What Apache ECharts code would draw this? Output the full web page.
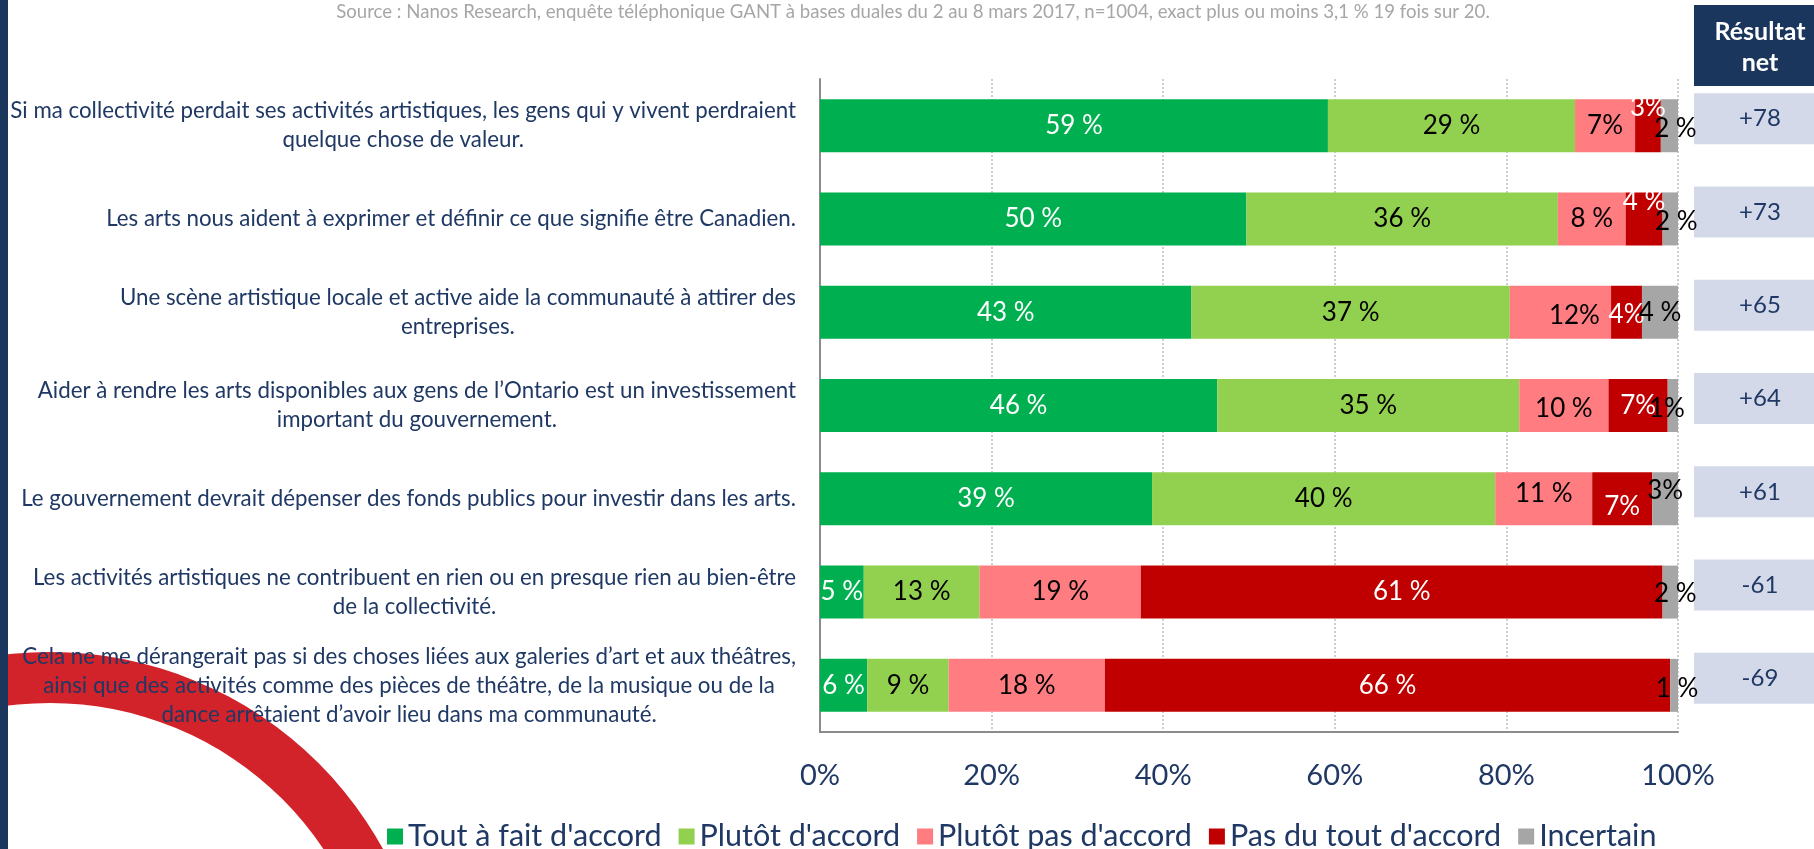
<!DOCTYPE html>
<html>
<head>
<meta charset="utf-8">
<script src="https://cdn.jsdelivr.net/npm/echarts/dist/echarts.min.js"></script>
<style>
  html, body { margin: 0; padding: 0; background: #fff; }
  #chart { width: 1814px; height: 849px; }
</style>
</head>
<body>
<div id="chart"></div>
<script>
// statements, top to bottom
const categories = [
  'Si ma collectivité perdait ses activités artistiques, les gens qui y vivent perdraient\nquelque chose de valeur.',
  'Les arts nous aident à exprimer et définir ce que signifie être Canadien.',
  'Une scène artistique locale et active aide la communauté à attirer des\nentreprises.',
  'Aider à rendre les arts disponibles aux gens de l’Ontario est un investissement\nimportant du gouvernement.',
  'Le gouvernement devrait dépenser des fonds publics pour investir dans les arts.',
  'Les activités artistiques ne contribuent en rien ou en presque rien au bien-être\nde la collectivité.',
  'Cela ne me dérangerait pas si des choses liées aux galeries d’art et aux théâtres,\nainsi que des activités comme des pièces de théâtre, de la musique ou de la\ndance arrêtaient d’avoir lieu dans ma communauté.'
];

const seriesNames = ["Tout à fait d'accord", "Plutôt d'accord", "Plutôt pas d'accord", "Pas du tout d'accord", 'Incertain'];

// shares (%)
const toutAFait = [59.2, 49.7, 43.3, 46.3, 38.7, 5.1, 5.5];
const plutotAccord = [28.8, 36.3, 37.1, 35.2, 40.0, 13.5, 9.5];
const plutotPas = [7.0, 7.9, 11.8, 10.4, 11.3, 18.8, 18.2];
const pasDuTout = [3.0, 4.3, 3.6, 6.9, 7.0, 60.8, 65.9];
const incertain = [2.0, 1.8, 4.2, 1.2, 3.0, 1.8, 0.9];

// printed labels, as they appear
const lblTout = ['59 %', '50 %', '43 %', '46 %', '39 %', '5 %', '6 %'];
const lblPlutot = ['29 %', '36 %', '37 %', '35 %', '40 %', '13 %', '9 %'];
const lblPlutotPas = ['7%', '8 %', '12%', '10 %', '11 %', '19 %', '18 %'];
const lblPasDuTout = ['3%', '4 %', '4%', '7%', '7%', '61 %', '66 %'];
const lblIncertain = ['2 %', '2 %', '4 %', '1%', '3%', '2 %', '1 %'];

const netResult = [78, 73, 65, 64, 61, -61, -69];

const xTicks = [0, 20, 40, 60, 80, 100];

const NAVY = '#1f3864';
const FONT = 'Lato, "Open Sans", sans-serif';
const colors = ['#00b050', '#92d050', '#ff7c80', '#c00000', '#a6a6a6'];
const labelColors = ['#fff', '#000', '#000', '#fff', '#000'];

// label nudges, "series-row": [dx, dy]
const labelNudge = {
  '3-0': [0, -18], '4-0': [6, 3],
  '3-1': [0, -17], '4-1': [6, 3],
  '2-2': [14, 3], '3-2': [0, 2],
  '2-3': [0, 3], '4-3': [-6, 3],
  '2-4': [0, -5], '3-4': [0, 8], '4-4': [0, -8],
  '4-5': [5, 2], '4-6': [3, 3]
};

const values = [toutAFait, plutotAccord, plutotPas, pasDuTout, incertain];
const labels = [lblTout, lblPlutot, lblPlutotPas, lblPasDuTout, lblIncertain];

const barSeries = values.map((vals, si) => ({
  name: seriesNames[si],
  type: 'bar',
  stack: 'total',
  barWidth: 53,
  itemStyle: { color: colors[si] },
  label: {
    show: true,
    position: 'inside',
    color: labelColors[si],
    fontFamily: FONT,
    fontSize: 26,
    formatter: (p) => labels[si][p.dataIndex]
  },
  emphasis: { disabled: true },
  data: vals.map((v, i) => {
    const n = labelNudge[si + '-' + i];
    return n ? { value: v, label: { offset: n } } : v;
  })
}));

const netSeries = {
  type: 'bar',
  xAxisIndex: 1,
  yAxisIndex: 1,
  barWidth: 51,
  silent: true,
  itemStyle: { color: '#d3d9e8' },
  label: {
    show: true,
    position: 'inside',
    offset: [6, 0],
    color: NAVY,
    fontFamily: FONT,
    fontSize: 24,
    formatter: (p) => (netResult[p.dataIndex] > 0 ? '+' : '') + netResult[p.dataIndex]
  },
  data: netResult.map(() => 1)
};

const chart = echarts.init(document.getElementById('chart'));

chart.setOption({
  animation: false,
  textStyle: { fontFamily: FONT },
  graphic: [
    {
      type: 'ring', z: -10, silent: true,
      shape: { cx: 50, cy: 1032, r: 380, r0: 329 },
      style: { fill: '#d2232b' }
    },
    { type: 'rect', silent: true, shape: { x: 0, y: 0, width: 8, height: 849 }, style: { fill: '#1b365d' } },
    { type: 'rect', silent: true, shape: { x: 1694, y: 5, width: 130, height: 81 }, style: { fill: '#1b365d' } },
    {
      type: 'text', silent: true, x: 1760, y: 47,
      style: {
        text: 'Résultat\nnet', fill: '#fff', font: 'bold 25px ' + FONT,
        align: 'center', verticalAlign: 'middle', lineHeight: 31
      }
    },
    {
      type: 'text', silent: true, x: 913, y: 12,
      style: {
        text: 'Source : Nanos Research, enquête téléphonique GANT à bases duales du 2 au 8 mars 2017, n=1004, exact plus ou moins 3,1 % 19 fois sur 20.',
        fill: '#a6a6a6', font: '18.6px ' + FONT, align: 'center', verticalAlign: 'middle'
      }
    }
  ],
  legend: {
    data: seriesNames,
    left: 382,
    top: 816,
    icon: 'rect',
    itemWidth: 16,
    itemHeight: 16,
    itemGap: 17,
    selectedMode: false,
    textStyle: { color: NAVY, fontSize: 30.5, fontFamily: FONT }
  },
  grid: [
    { left: 820, right: 136, top: 79, bottom: 117 },
    { left: 1694, right: 0, top: 72, bottom: 124 }
  ],
  xAxis: [
    {
      type: 'value', min: xTicks[0], max: xTicks[xTicks.length - 1], interval: 20,
      axisLine: { show: true, lineStyle: { color: '#8c8c8c', width: 2 } },
      axisTick: { show: false },
      axisLabel: { color: NAVY, fontSize: 29, margin: 29, formatter: '{value}%' },
      splitLine: { show: true, lineStyle: { color: '#bfbfbf', type: [2, 2], width: 1.5 } }
    },
    { gridIndex: 1, type: 'value', min: 0, max: 1, show: false }
  ],
  yAxis: [
    {
      type: 'category', inverse: true, data: categories,
      axisLine: { show: true, lineStyle: { color: '#8c8c8c', width: 2 } },
      axisTick: { show: false },
      axisLabel: {
        align: 'right',
        margin: 24,
        formatter: (v) => v.split('\n').map((l) => '{c|' + l + '}').join('\n'),
        rich: { c: { align: 'center', color: NAVY, fontSize: 22.3, lineHeight: 29, fontFamily: FONT } }
      }
    },
    { gridIndex: 1, type: 'category', inverse: true, data: categories, show: false }
  ],
  series: barSeries.concat([netSeries])
});
</script>
</body>
</html>
